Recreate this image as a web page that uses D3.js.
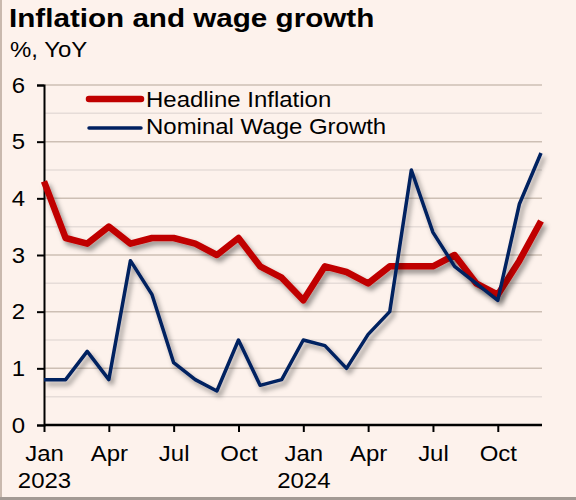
<!DOCTYPE html>
<html>
<head>
<meta charset="utf-8">
<script src="https://cdn.jsdelivr.net/npm/d3@7"></script>
<style>
  body { margin: 0; background: #fdf2ec; }
  svg { display: block; font-family: "Liberation Sans", Arial, sans-serif; }
</style>
</head>
<body>
<svg id="chart"></svg>
<script>
// monthly, Jan 2023 .. Dec 2024
const months = d3.range(24)
const headline = [4.3, 3.3, 3.2, 3.5, 3.2, 3.3, 3.3, 3.2, 3.0, 3.3, 2.8, 2.6,
                  2.2, 2.8, 2.7, 2.5, 2.8, 2.8, 2.8, 3.0, 2.5, 2.3, 2.9, 3.6]
const wages = [0.8, 0.8, 1.3, 0.8, 2.9, 2.3, 1.1, 0.8, 0.6, 1.5, 0.7, 0.8,
               1.5, 1.4, 1.0, 1.6, 2.0, 4.5, 3.4, 2.8, 2.5, 2.2, 3.9, 4.8]
const tick_months = [0, 3, 6, 9, 12, 15, 18, 21]
const tick_labels = ["Jan", "Apr", "Jul", "Oct", "Jan", "Apr", "Jul", "Oct"]
const tick_years = {0: "2023", 12: "2024"}
const y_ticks = [0, 1, 2, 3, 4, 5, 6]
const y_minor = [0.5, 1.5, 2.5, 3.5, 4.5, 5.5]

let width = 576, height = 500
let font = "Liberation Sans, Arial, sans-serif"
let fs = 22, k = 1.09
let svg = d3.select("#chart").attr("width", width).attr("height", height)

let x = d3.scaleLinear().domain([0, 23]).range([44, 541])
let y = d3.scaleLinear().domain([0, 6]).range([425, 85])

// the original export is a bit wide, so glyphs get stretched sideways around their x
function stretch(sel, k) {
  sel.each(function() {
    let xx = +this.getAttribute("x") || 0
    d3.select(this).attr("transform", `translate(${xx * (1 - k)},0) scale(${k},1)`)
  })
}

// background + frame edges
svg.append("rect").attr("width", width).attr("height", height).attr("fill", "#fdf2ec")
svg.append("rect").attr("x", 0).attr("y", 0).attr("width", 2).attr("height", height).attr("fill", "#c9b9ae")
svg.append("rect").attr("x", 0).attr("y", 497).attr("width", width).attr("height", 3).attr("fill", "#a39a94")

let defs = svg.append("defs")
let f = defs.append("filter").attr("id", "shadow").attr("x", "-10%").attr("y", "-10%").attr("width", "130%").attr("height", "130%")
f.append("feDropShadow").attr("dx", 3).attr("dy", 4).attr("stdDeviation", 2.5)
  .attr("flood-color", "#000").attr("flood-opacity", 0.4)

// title
svg.append("text").attr("x", 9).attr("y", 27).attr("font-size", 26).attr("font-weight", "bold")
  .attr("fill", "#000").text("Inflation and wage growth").call(stretch, 1.14)
svg.append("text").attr("x", 10).attr("y", 57).attr("font-size", fs).attr("fill", "#000")
  .text("%, YoY").call(stretch, k)

// grid
svg.append("g").selectAll("line").data(y_minor).join("line")
  .attr("x1", 44).attr("x2", 542).attr("y1", d => y(d)).attr("y2", d => y(d))
  .attr("stroke", "#e6dcd8").attr("stroke-width", 1.5)
svg.append("g").selectAll("line").data(y_ticks.slice(1)).join("line")
  .attr("x1", 44).attr("x2", 542).attr("y1", d => y(d)).attr("y2", d => y(d))
  .attr("stroke", "#cdbfb4").attr("stroke-width", 1.5)

// axes
let yAxis = svg.append("g").attr("transform", "translate(44,0)")
  .call(d3.axisLeft(y).tickValues(y_ticks).tickSize(7).tickFormat(d3.format("d")))
yAxis.select(".domain").attr("stroke", "#000").attr("stroke-width", 2)
yAxis.selectAll(".tick line").attr("stroke", "#000").attr("stroke-width", 2)
yAxis.selectAll(".tick text").attr("font-size", fs).attr("fill", "#000").attr("x", -19)
  .attr("font-family", font).call(stretch, k)

let xAxis = svg.append("g").attr("transform", "translate(0,425)")
  .call(d3.axisBottom(x).tickValues(tick_months).tickSize(7).tickSizeOuter(0)
    .tickFormat((d, i) => tick_labels[i]))
xAxis.select(".domain").attr("stroke", "#000").attr("stroke-width", 2.5)
  .attr("d", `M44,0H542`)
xAxis.selectAll(".tick line").attr("stroke", "#000").attr("stroke-width", 2)
xAxis.selectAll(".tick text").attr("font-size", fs).attr("fill", "#000").attr("y", 20)
  .attr("font-family", font).call(stretch, k)
xAxis.selectAll(".tick").filter(d => tick_years[d]).append("text")
  .attr("y", 47).attr("dy", "0.71em").attr("text-anchor", "middle").attr("fill", "#000")
  .attr("font-size", fs).attr("font-family", font)
  .text(d => tick_years[d]).call(stretch, k)

// lines
let line = d3.line().x((d, i) => x(months[i])).y(d => y(d))
svg.append("path").datum(headline).attr("d", line)
  .attr("fill", "none").attr("stroke", "#c00000").attr("stroke-width", 6.5)
  .attr("stroke-linejoin", "round").attr("filter", "url(#shadow)")
svg.append("path").datum(wages).attr("d", line)
  .attr("fill", "none").attr("stroke", "#002060").attr("stroke-width", 3.5)
  .attr("stroke-linejoin", "round").attr("filter", "url(#shadow)")

// legend
let legend = [["Headline Inflation", "#c00000", 6.5, 99, 107], ["Nominal Wage Growth", "#002060", 3.5, 128, 134]]
legend.forEach(([name, color, w, ly, base]) => {
  svg.append("line").attr("x1", 89).attr("x2", 141).attr("y1", ly).attr("y2", ly)
    .attr("stroke", color).attr("stroke-width", w).attr("stroke-linecap", "round")
  svg.append("text").attr("x", 146).attr("y", base).attr("font-size", fs).attr("fill", "#000")
    .text(name).call(stretch, k)
})
</script>
</body>
</html>
